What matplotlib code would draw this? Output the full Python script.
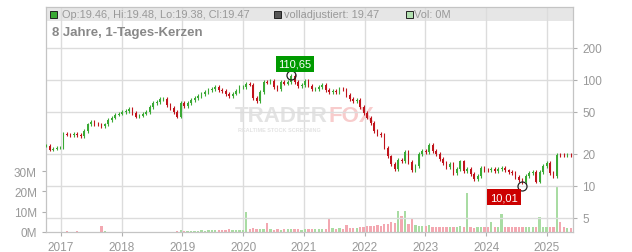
import numpy as np
import pandas as pd
import matplotlib
matplotlib.use("Agg")
import matplotlib.pyplot as plt
import matplotlib.dates as mdates
from matplotlib.patches import Rectangle
from matplotlib.ticker import FixedLocator, NullLocator

plt.rcParams['font.family'] = ['Liberation Sans', 'DejaVu Sans']

# closes roughly every 3 weeks
closes = [24, 22, 22.5, 23, 23, 31, 30.5, 30, 31, 30,
          29.5, 33, 38, 40, 38.5, 38, 36.5, 38, 42, 44,
          47, 48, 50, 51, 53, 49, 45, 46, 48, 50,
          55, 60, 62, 66, 66, 58, 54, 50, 45, 60,
          56, 60, 64, 67, 70, 73, 77, 80, 82, 85,
          80, 78, 73, 70, 74, 78, 86, 86, 92, 90,
          67, 63, 77, 95, 94, 98, 86, 82, 95, 92,
          95, 108, 95, 87, 89, 97, 88, 81, 82, 85,
          89, 80, 77, 79, 77, 82, 81, 72, 66, 63,
          65, 55, 49, 44, 39, 33, 31, 30, 23, 19,
          16, 14.5, 17.5, 17, 21, 16.8, 14, 15.5, 20, 21.5,
          21, 24.5, 21.5, 20, 18, 16.5, 15.2, 16, 13.2, 14.5,
          17, 13.8, 14.5, 13, 11.6, 12.5, 14.8, 14.2, 14, 14.6,
          13.8, 14.5, 14.8, 14, 13.6, 13.2, 12.2, 11.4, 10.8, 12.5,
          13.3, 13.5, 11, 13.5, 15.5, 16.5, 13.2, 12.5, 19.6, 19.5,
          19.4, 19.5, 19.47]

# volume in millions, same dates
volumes = [0.1, 0.1, 0.1, 0.1, 0.2, 0.2, 0.5, 0.1, 0.1, 0.3,
           0.1, 0.1, 0.1, 0.1, 0.1, 0.1, 3.0, 0.4, 0.1, 0.1,
           0.1, 0.1, 0.1, 0.1, 0.1, 0.1, 0.1, 0.1, 0.1, 0.1,
           0.1, 0.1, 0.1, 0.1, 0.1, 0.1, 0.1, 0.2, 0.3, 1.2,
           0.6, 0.4, 0.5, 0.4, 0.6, 0.8, 0.7, 0.9, 1.0, 0.8,
           0.9, 1.0, 1.1, 1.5, 1.0, 1.1, 1.2, 1.2, 9.7, 1.5,
           1.8, 1.5, 1.3, 1.4, 4.5, 1.3, 1.2, 1.4, 1.2, 1.3,
           1.4, 1.6, 1.3, 1.4, 1.2, 1.5, 1.3, 1.6, 1.4, 1.5,
           1.7, 1.6, 6.5, 1.8, 1.6, 1.9, 1.7, 3.5, 2.0, 1.8,
           2.2, 2.4, 2.6, 2.8, 3.2, 3.0, 3.5, 3.2, 4.0, 3.8,
           5.0, 4.2, 10.5, 8.0, 10.5, 4.0, 6.5, 3.5, 3.0, 3.2,
           2.8, 3.5, 2.6, 2.4, 2.6, 2.5, 2.3, 2.6, 2.4, 2.5,
           3.0, 2.4, 19.0, 2.3, 2.2, 2.6, 2.4, 2.5, 2.3, 5.0,
           2.4, 2.6, 9.0, 2.3, 2.5, 2.4, 2.6, 2.7, 2.5, 2.4,
           2.3, 2.6, 2.5, 7.4, 2.5, 2.4, 2.6, 2.5, 22.0, 5.0,
           2.4, 2.2, 2.0]

start_date = '2016-10-04'
end_date = '2025-05-23'
dates = pd.date_range(start_date, end_date, periods=len(closes))

peak_date, peak_val = pd.Timestamp('2020-10-14'), 110.65
low_date, low_val = pd.Timestamp('2024-08-03'), 10.01

years = list(range(2017, 2026))
price_ticks = [5, 10, 20, 50, 100, 200]
vol_ticks = [0, 10, 20, 30]
legend_ohlc = "Op:19.46, Hi:19.48, Lo:19.38, Cl:19.47"
legend_adj = "volladjustiert: 19.47"
legend_vol = "Vol: 0M"
title_txt = "8 Jahre, 1-Tages-Kerzen"

opens = [closes[0]] + closes[:-1]
c = np.array(closes)
o = np.array(opens)
up = c >= o
green, red = '#3aa935', '#c0141c'
vgreen, vpink = '#a9dca3', '#f3a8b1'
grid_c = '#dcdcdc'
txt_c = '#999999'

W, H = 632, 253
fig = plt.figure(figsize=(W / 100, H / 100), dpi=100)
ax = fig.add_axes([46 / W, (H - 233) / H, 527 / W, 225 / H])
axp = ax.twinx()

# volume
ax.bar(dates, volumes, width=14, color=np.where(up, vgreen, vpink), zorder=2)
ax.set_ylim(0, 110.8)
ax.set_yticks(vol_ticks)
ax.set_yticklabels([f"{v}M" for v in vol_ticks])
ax.set_xlim(pd.Timestamp('2016-10-03'), pd.Timestamp('2025-06-06'))
ax.xaxis.set_major_locator(mdates.YearLocator())
ax.xaxis.set_major_formatter(mdates.DateFormatter('%Y'))
ax.set_axisbelow(True)
ax.grid(axis='x', color=grid_c, lw=1)
ax.add_patch(Rectangle((0, (233 - 22) / 225), 1, 1 - (233 - 22) / 225,
                       transform=ax.transAxes, color='#e6e6e6', zorder=0.2, lw=0))

# price candles
hi = np.maximum(o, c) * 1.04
lo = np.minimum(o, c) * 0.96
cols = np.where(up, green, red)
axp.vlines(dates, lo, hi, colors=cols, lw=0.8, zorder=3)
axp.bar(dates, c - o, bottom=o, width=10, color=cols, zorder=3)
axp.set_yscale('log')
axp.set_ylim(3.69, 483)
axp.yaxis.set_major_locator(FixedLocator(price_ticks))
axp.yaxis.set_minor_locator(NullLocator())
axp.set_yticklabels([str(p) for p in price_ticks])
axp.set_axisbelow(True)
axp.grid(axis='y', color=grid_c, lw=1)

for a in (ax, axp):
    for s in a.spines.values():
        s.set_color('#c4c4c4')
    a.tick_params(colors='#b0b0b0', labelcolor=txt_c, labelsize=8.5, length=3)

# markers and labels
axp.plot(peak_date, peak_val, 'o', mfc='none', mec='#222222', ms=6.5, mew=0.9, zorder=5)
axp.annotate(f"{peak_val:.2f}".replace('.', ','), (peak_date, peak_val),
             xytext=(3, 8), textcoords='offset points', ha='center', va='center',
             color='white', fontsize=8,
             bbox=dict(boxstyle='square,pad=0.25', fc='#009a00', ec='none'), zorder=6)
axp.plot(low_date, low_val, 'o', mfc='none', mec='#222222', ms=6.5, mew=0.9, zorder=5)
axp.annotate(f"{low_val:.2f}".replace('.', ','), (low_date, low_val),
             xytext=(-13, -8), textcoords='offset points', ha='center', va='center',
             color='white', fontsize=8,
             bbox=dict(boxstyle='square,pad=0.25', fc='#cc0000', ec='none'), zorder=6)

# watermark
axp.text((235 - 46) / 527, (233 - 116) / 225, "TRADER", transform=axp.transAxes,
         fontsize=16, fontweight='bold', color='#e3e3e3', va='center', zorder=0)
axp.text((328 - 46) / 527, (233 - 116) / 225, "FOX", transform=axp.transAxes,
         fontsize=16, fontweight='bold', color='#f8cccc', va='center', zorder=0)
axp.text((238 - 46) / 527, (233 - 130) / 225, "REALTIME STOCK SCREENING",
         transform=axp.transAxes, fontsize=4, fontweight='bold', color='#e3e3e3',
         va='center', zorder=0)

# legend bar
def px(x, y):
    return x / W, 1 - y / H

for x0, fc in [(50, '#3aa935'), (274, '#555555'), (406, '#b2e0b0')]:
    fig.add_artist(Rectangle(px(x0, 19), 7 / W, 7 / H, transform=fig.transFigure,
                             fc=fc, ec='#222222', lw=0.7))
fig.text(*px(62, 15.5), legend_ohlc, fontsize=7.9, color=txt_c, va='center')
fig.text(*px(284, 15.5), legend_adj, fontsize=7.9, color=txt_c, va='center')
fig.text(*px(414, 15.5), legend_vol, fontsize=7.9, color=txt_c, va='center')
fig.text(*px(52, 33), title_txt, fontsize=9.5, fontweight='bold', color='#888888', va='center')

fig.savefig('out.png', dpi=100)
